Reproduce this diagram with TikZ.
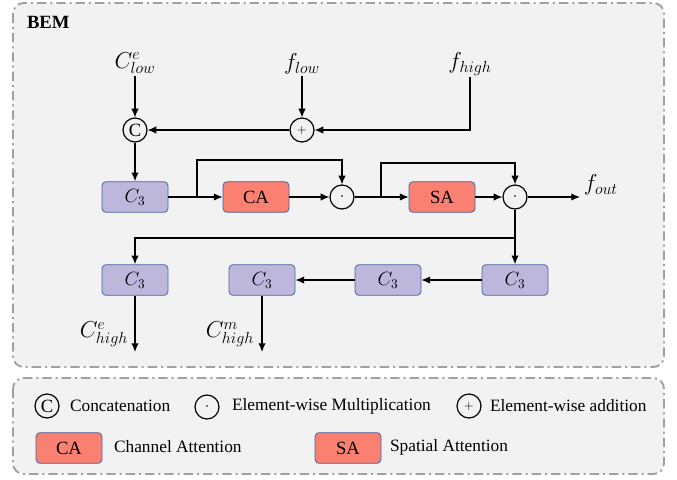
\documentclass[tikz,border=0pt]{standalone}
\usepackage{fontspec}
\setmainfont{Liberation Serif}
\usetikzlibrary{positioning, arrows.meta}
\definecolor{convfill}{RGB}{189,183,220}
\definecolor{attfill}{RGB}{250,128,114}
\definecolor{boxedge}{RGB}{70,100,165}
\definecolor{panelfill}{RGB}{242,242,242}
\definecolor{paneledge}{RGB}{160,160,160}
\tikzset{
  every node/.style={text=black, font=\fontsize{13}{15}\selectfont},
  every path/.style={line width=0.9pt},
  >={Latex[length=6.5pt, width=5.5pt]},
  panel/.style={draw=paneledge, fill=panelfill, line width=1.4pt, rounded corners=8pt,
    dash pattern=on 7pt off 3pt on 1.5pt off 3pt},
  convbox/.style={draw=boxedge, fill=convfill, line width=0.6pt, rounded corners=3pt,
    minimum width=49.5pt, minimum height=23pt, font=\fontsize{14}{16}\selectfont},
  attbox/.style={convbox, fill=attfill},
  opcircle/.style={draw=black, circle, line width=0.9pt, minimum size=18pt, inner sep=0pt},
  lbl/.style={font=\fontsize{16.5}{18}\selectfont, inner sep=1pt}
}

\begin{document}
\begin{tikzpicture}[x=0.75pt, y=-0.75pt]
  \useasboundingbox (0,0) rectangle (677,479);
  % Panels
  \draw[panel] (13,3) rectangle (664,367);
  \draw[panel] (13,378) rectangle (664,474);
  \node[anchor=west, font=\fontsize{14}{16}\selectfont\bfseries] (bem) at (22,22) {BEM};

  % Nodes
  \node[lbl] (clow) at (135,63) {$C_{low}^{e}$};
  \node[lbl] (flow) at (302,64) {$f_{low}$};
  \node[lbl] (fhigh) at (470,64) {$f_{high}$};
  \node[opcircle, font=\fontsize{14}{16}\selectfont] (cat) at (135,130) {C};
  \node[opcircle, font=\small] (add) at (302,130) {$+$};
  \node[convbox] (c3a) at (135,197) {$C_3$};
  \node[attbox] (ca) at (256,197) {CA};
  \node[opcircle] (mul1) at (342,197) {$\cdot$};
  \node[attbox] (sa) at (442,197) {SA};
  \node[opcircle] (mul2) at (515,197) {$\cdot$};
  \coordinate (outend) at (580,197);
  \node[lbl, anchor=west] (fout) at (582,185) {$f_{out}$};
  \node[convbox] (c3e) at (515,280) {$C_3$};
  \node[convbox] (c3d) at (388,280) {$C_3$};
  \node[convbox] (c3c) at (262,280) {$C_3$};
  \node[convbox] (c3b) at (135,280) {$C_3$};
  \coordinate (outhe) at (135,352);
  \coordinate (outhm) at (262,352);
  \node[lbl, anchor=east] (chighe) at (130,334) {$C_{high}^{e}$};
  \node[lbl, anchor=east] (chighm) at (256,334) {$C_{high}^{m}$};
  \coordinate (br1) at (197,197);
  \coordinate (br2) at (381,197);
  \coordinate (br3) at (515,238);

  % Connectors
  \draw[->] (clow) -- (cat);
  \draw[->] (flow) -- (add);
  \draw[->] (fhigh) |- (add);
  \draw[->] (add) -- (cat);
  \draw[->] (cat) -- (c3a);
  \draw[->] (c3a) -- (ca);
  \draw[->] (br1) -- ++(0,-37) -| (mul1);
  \draw[->] (ca) -- (mul1);
  \draw[->] (mul1) -- (sa);
  \draw[->] (br2) -- ++(0,-34) -| (mul2);
  \draw[->] (sa) -- (mul2);
  \draw[->] (mul2) -- (outend);
  \draw[->] (mul2) -- (c3e);
  \draw[->] (br3) -| (c3b);
  \draw[->] (c3e) -- (c3d);
  \draw[->] (c3d) -- (c3c);
  \draw[->] (c3b) -- (outhe);
  \draw[->] (c3c) -- (outhm);

  % Legend
  \node[opcircle, font=\fontsize{14}{16}\selectfont] (lcat) at (47,406) {C};
  \node[anchor=west] (lcattxt) at (65,406) {Concatenation};
  \node[opcircle] (lmul) at (207,407) {$\cdot$};
  \node[anchor=west] (lmultxt) at (227,406) {Element-wise Multiplication};
  \node[opcircle, font=\small] (ladd) at (469,406) {$+$};
  \node[anchor=west] (laddtxt) at (485,406) {Element-wise addition};
  \node[attbox] (lca) at (69,448) {CA};
  \node[anchor=west] (lcatxt) at (109,447) {Channel Attention};
  \node[attbox] (lsa) at (348,448) {SA};
  \node[anchor=west] (lsatxt) at (385,447) {Spatial Attention};
\end{tikzpicture}
\end{document}
